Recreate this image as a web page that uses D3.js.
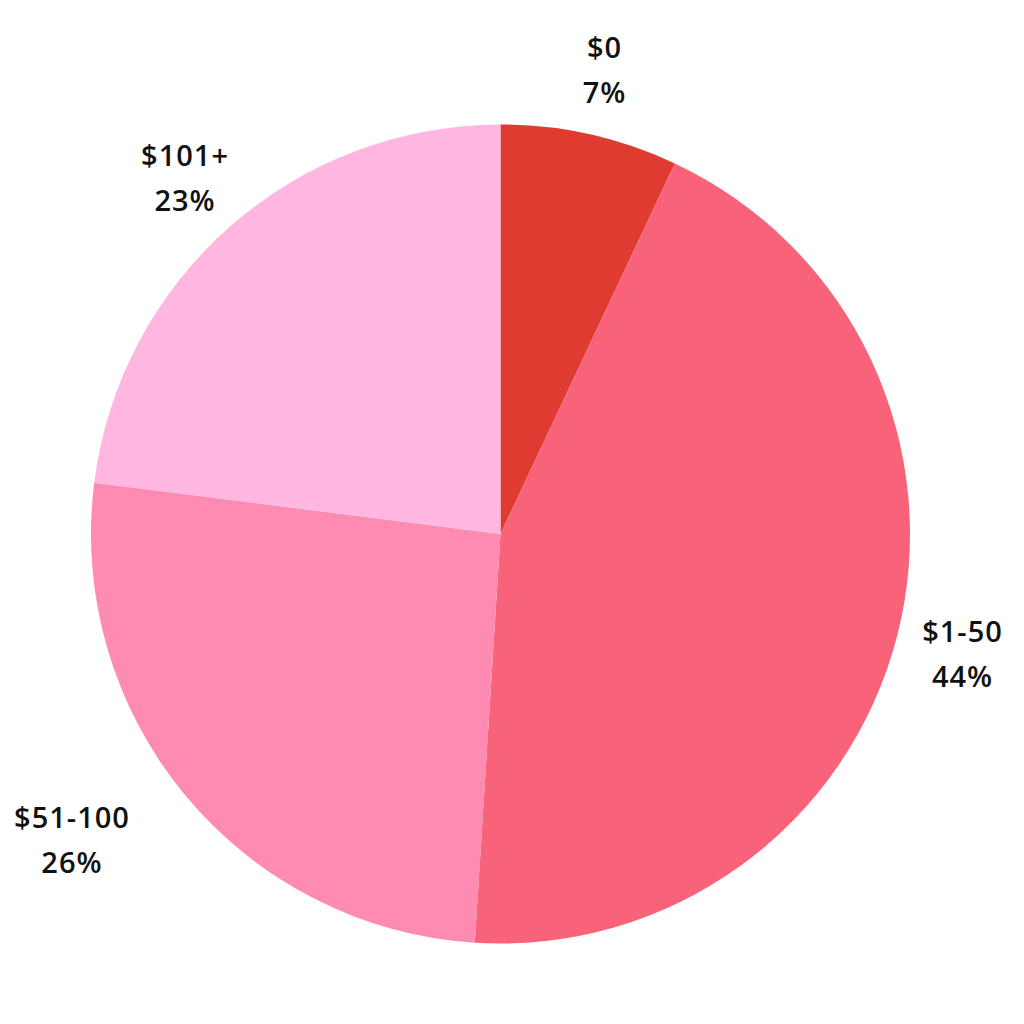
<!DOCTYPE html>
<html>
<head>
<meta charset="utf-8">
<script src="https://cdn.jsdelivr.net/npm/d3@7"></script>
<style>
  html, body { margin: 0; padding: 0; background: #ffffff; }
  svg { display: block; }
</style>
</head>
<body>
<svg id="chart" width="1024" height="1024"></svg>
<script>
const categories = ["$0", "$1-50", "$51-100", "$101+"];
const values = [7, 44, 26, 23];
const percentLabels = ["7%", "44%", "26%", "23%"];
const colors = ["#E03B31", "#F8637A", "#FF8BB3", "#FFB6E1"];

const data = categories.map((c, i) => ({ category: c, value: values[i], label: percentLabels[i], color: colors[i] }));

// horizontal nudges applied to label placement (layout only)
const labelNudgeX = { "$51-100": -61 };

const svg = d3.select("#chart");
const cx = 500.5, cy = 534, radius = 409.5, labelRadius = 477;
const g = svg.append("g").attr("transform", `translate(${cx},${cy})`);

const pie = d3.pie().value(d => d.value).sort(null);
const arc = d3.arc().innerRadius(0).outerRadius(radius);
const labelArc = d3.arc().innerRadius(labelRadius).outerRadius(labelRadius);

const arcs = pie(data);

g.selectAll("path.slice")
  .data(arcs)
  .enter().append("path")
  .attr("class", "slice")
  .attr("d", arc)
  .attr("fill", d => d.data.color);

const labels = g.selectAll("text.lbl")
  .data(arcs)
  .enter().append("text")
  .attr("class", "lbl")
  .attr("transform", d => {
    const [x, y] = labelArc.centroid(d);
    return `translate(${x + (labelNudgeX[d.data.category] || 0)},${y})`;
  })
  .attr("text-anchor", "middle")
  .style("font-family", "'Open Sans', sans-serif")
  .style("font-weight", 600)
  .style("font-size", "29px")
  .style("letter-spacing", "1px")
  .style("fill", "#111111");

labels.append("tspan").attr("x", 0).attr("dy", -10.5).text(d => d.data.category);
labels.append("tspan").attr("x", 0).attr("dy", 45).text(d => d.data.label);
</script>
</body>
</html>
